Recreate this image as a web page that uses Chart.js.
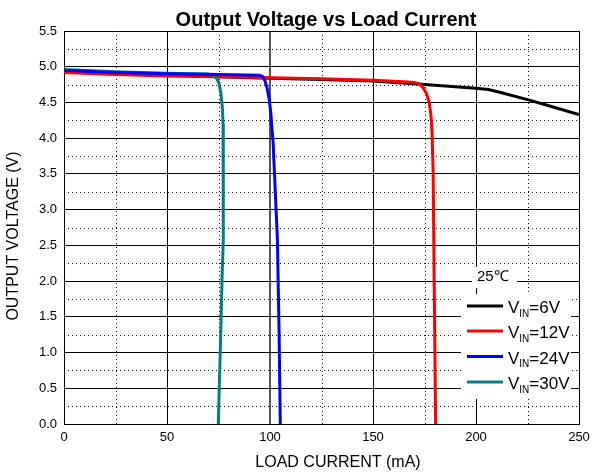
<!DOCTYPE html>
<html><head><meta charset="utf-8">
<script src="https://cdn.jsdelivr.net/npm/chart.js@4.4.1/dist/chart.umd.min.js"></script>
<style>html,body{margin:0;padding:0;background:#fff}</style>
</head><body>
<canvas id="c" width="593" height="476"></canvas>
<script>
const chartTitle = 'Output Voltage vs Load Current';
const xTitle = 'LOAD CURRENT (mA)';
const yTitle = 'OUTPUT VOLTAGE (V)';
const tempLabel = '25℃';
const vinLabels = ['6V', '12V', '24V', '30V'];
const seriesColors = ['#000000', '#ff0000', '#0000ff', '#008080'];

const xTicksMajor = [0, 50, 100, 150, 200, 250];
const yTicksMajor = [0, 0.5, 1, 1.5, 2, 2.5, 3, 3.5, 4, 4.5, 5, 5.5];
const xMinor = [25, 75, 125, 175, 225];
const yMinor = [0.25, 0.75, 1.25, 1.75, 2.25, 2.75, 3.25, 3.75, 4.25, 4.75, 5.25];

const current6 = [0, 25, 50, 75, 100, 125, 150, 175, 190, 200, 206, 212, 225, 237, 250];
const voltage6 = [4.93, 4.90, 4.88, 4.86, 4.84, 4.82, 4.80, 4.75, 4.72, 4.70, 4.68, 4.64, 4.54, 4.44, 4.33];

const current12 = [0, 25, 50, 75, 100, 125, 150, 165, 170, 172.5, 174.5, 176, 177.3, 178.2, 178.7, 179.2, 179.7, 180.4];
const voltage12 = [4.92, 4.89, 4.87, 4.86, 4.845, 4.83, 4.81, 4.79, 4.78, 4.76, 4.70, 4.62, 4.50, 4.30, 4.05, 3.5, 2.0, 0];

const current24 = [0, 25, 50, 75, 95, 96.5, 97.6, 98.6, 99.6, 100.4, 100.9, 101.5, 103.6, 104.4, 105];
const voltage24 = [4.95, 4.92, 4.90, 4.89, 4.88, 4.86, 4.80, 4.70, 4.55, 4.35, 4.15, 3.95, 2.58, 1.3, 0];

const current30 = [0, 25, 50, 70, 72.5, 74, 75.2, 76.2, 76.9, 77.2, 77.35, 77.3, 76.8, 76.0, 74.9];
const voltage30 = [4.96, 4.93, 4.91, 4.90, 4.88, 4.84, 4.78, 4.62, 4.42, 4.20, 3.9, 2.58, 2.12, 1.18, 0];

const FONT = "'Liberation Sans', Arial, sans-serif";

function pts(xs, ys) { return xs.map((x, i) => ({x: x, y: ys[i]})); }

const datasets = [
  {label: vinLabels[0], data: pts(current6, voltage6), borderColor: seriesColors[0], order: 4},
  {label: vinLabels[1], data: pts(current12, voltage12), borderColor: seriesColors[1], order: 3},
  {label: vinLabels[3], data: pts(current30, voltage30), borderColor: seriesColors[3], order: 2},
  {label: vinLabels[2], data: pts(current24, voltage24), borderColor: seriesColors[2], order: 1}
].map(d => Object.assign(d, {showLine: true, borderWidth: 3, pointRadius: 0, tension: 0, fill: false}));

const minorGrid = {
  id: 'minorGrid',
  beforeDatasetsDraw(chart) {
    const {ctx, chartArea: a, scales: {x, y}} = chart;
    ctx.save();
    ctx.strokeStyle = '#111';
    ctx.lineWidth = 1;
    ctx.setLineDash([1, 3]);
    yMinor.forEach(v => {
      const py = Math.round(y.getPixelForValue(v)) + 0.5;
      ctx.beginPath(); ctx.moveTo(a.left, py); ctx.lineTo(a.right, py); ctx.stroke();
    });
    xMinor.forEach(v => {
      const px = Math.round(x.getPixelForValue(v)) + 0.5;
      ctx.beginPath(); ctx.moveTo(px, a.top); ctx.lineTo(px, a.bottom); ctx.stroke();
    });
    ctx.restore();
  }
};

const titles = {
  id: 'titles',
  afterDraw(chart) {
    const ctx = chart.ctx;
    ctx.save();
    ctx.fillStyle = '#000';
    ctx.textAlign = 'center';
    ctx.textBaseline = 'alphabetic';
    ctx.font = 'bold 20px ' + FONT;
    ctx.fillText(chartTitle, 326, 26);
    ctx.font = '16px ' + FONT;
    ctx.textBaseline = 'middle';
    ctx.fillText(xTitle, 338, 463);
    ctx.translate(14, 236);
    ctx.rotate(-Math.PI / 2);
    ctx.fillText(yTitle, 0, 0);
    ctx.restore();
  }
};

const customLegend = {
  id: 'customLegend',
  afterDatasetsDraw(chart) {
    const ctx = chart.ctx;
    ctx.save();
    ctx.fillStyle = '#fff';
    ctx.fillRect(472, 267, 45, 21);
    ctx.fillRect(461, 294, 110, 105);
    ctx.fillStyle = '#000';
    ctx.textBaseline = 'alphabetic';
    ctx.font = '15px ' + FONT;
    ctx.fillText(tempLabel, 477, 281);
    const rowY = [306, 331, 356.5, 382];
    vinLabels.forEach((lab, i) => {
      const yy = rowY[i];
      ctx.strokeStyle = seriesColors[i];
      ctx.lineWidth = 3;
      ctx.beginPath(); ctx.moveTo(467, yy); ctx.lineTo(503, yy); ctx.stroke();
      ctx.fillStyle = '#000';
      ctx.font = '17px ' + FONT;
      ctx.fillText('V', 508, yy + 7.3);
      const wV = ctx.measureText('V').width;
      ctx.font = '10px ' + FONT;
      ctx.fillText('IN', 508 + wV, yy + 10.7);
      const wIn = ctx.measureText('IN').width;
      ctx.font = '17px ' + FONT;
      ctx.fillText('=' + lab, 508 + wV + wIn, yy + 7.3);
    });
    ctx.restore();
  }
};

new Chart(document.getElementById('c'), {
  type: 'scatter',
  data: {datasets},
  options: {
    responsive: false,
    animation: false,
    devicePixelRatio: 1,
    layout: {padding: {left: 0, right: 14, top: 31, bottom: 0}},
    plugins: {
      legend: {display: false},
      tooltip: {enabled: false},
      title: {display: false}
    },
    scales: {
      x: {
        type: 'linear', min: 0, max: 250,
        afterBuildTicks: s => { s.ticks = xTicksMajor.map(v => ({value: v})); },
        afterFit: s => { s.height = 52; s.paddingRight = 0; s.paddingLeft = 0; },
        grid: {
          color: c => (c.tick && c.tick.value === 100) ? '#555' : '#000',
          lineWidth: c => (c.tick && c.tick.value === 100) ? 2 : 1,
          drawTicks: false
        },
        border: {color: '#000', width: 1},
        ticks: {color: '#000', font: {family: FONT, size: 13}, padding: 6, maxRotation: 0},
        title: {display: false}
      },
      y: {
        type: 'linear', min: 0, max: 5.5,
        afterBuildTicks: s => { s.ticks = yTicksMajor.map(v => ({value: v})); },
        afterFit: s => { s.width = 64; s.paddingTop = 0; s.paddingBottom = 0; },
        grid: {color: '#000', lineWidth: 1, drawTicks: false},
        border: {color: '#000', width: 1},
        ticks: {color: '#000', font: {family: FONT, size: 13}, padding: 7, callback: v => Number(v).toFixed(1)},
        title: {display: false}
      }
    }
  },
  plugins: [minorGrid, customLegend, titles]
});
</script>
</body></html>
